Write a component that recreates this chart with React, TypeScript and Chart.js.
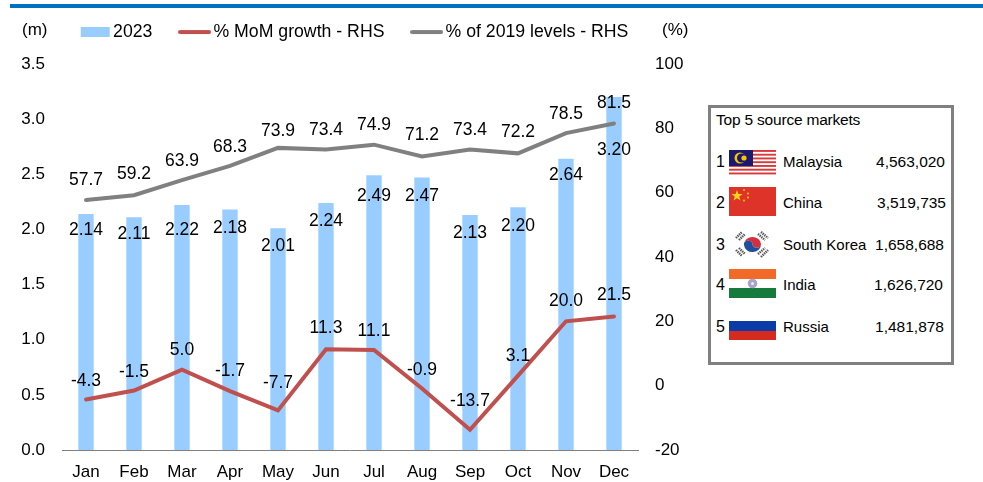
import React, { useEffect, useRef } from "react";
import { Chart, registerables } from "chart.js";

Chart.register(...registerables);

const months = ["Jan", "Feb", "Mar", "Apr", "May", "Jun", "Jul", "Aug", "Sep", "Oct", "Nov", "Dec"];
const arrivals2023 = [2.14, 2.11, 2.22, 2.18, 2.01, 2.24, 2.49, 2.47, 2.13, 2.2, 2.64, 3.2];
const momGrowth = [-4.3, -1.5, 5.0, -1.7, -7.7, 11.3, 11.1, -0.9, -13.7, 3.1, 20.0, 21.5];
const pctOf2019 = [57.7, 59.2, 63.9, 68.3, 73.9, 73.4, 74.9, 71.2, 73.4, 72.2, 78.5, 81.5];

const markets = ["Malaysia", "China", "South Korea", "India", "Russia"];
const marketVisitors = ["4,563,020", "3,519,735", "1,658,688", "1,626,720", "1,481,878"];

// label placement relative to each mark (px, screen y)
const barLabelDy = [16, 17, 25, 19, 18, 18, 21, 19, 18, 19, 16, 53];
const momLabelDy = [-18, -18, -19, -20, -27, -21, -19, -18, -29, -20, -20, -21];
const pctLabelDy = [-20, -21, -19, -19, -17, -19, -19, -21, -19, -21, -19, -20];

const FONT = '"Liberation Sans", Arial, sans-serif';
const TEXT = "#000000";

const valueLabels = {
  id: "valueLabels",
  afterDatasetsDraw(chart: any) {
    const { ctx } = chart;
    const sets: [number, number[], (v: number) => string][] = [
      [0, barLabelDy, (v) => v.toFixed(2)],
      [1, momLabelDy, (v) => v.toFixed(1)],
      [2, pctLabelDy, (v) => v.toFixed(1)],
    ];
    ctx.save();
    ctx.font = `17.5px ${FONT}`;
    ctx.fillStyle = TEXT;
    ctx.textAlign = "center";
    ctx.textBaseline = "middle";
    for (const [idx, dy, fmt] of sets) {
      const meta = chart.getDatasetMeta(idx);
      const data = chart.data.datasets[idx].data as number[];
      meta.data.forEach((el: any, i: number) => {
        ctx.fillText(fmt(data[i]), el.x, el.y + dy[i]);
      });
    }
    ctx.restore();
  },
};

const unitLabels = {
  id: "unitLabels",
  afterDraw(chart: any) {
    const { ctx } = chart;
    ctx.save();
    ctx.font = `17px ${FONT}`;
    ctx.fillStyle = TEXT;
    ctx.textBaseline = "middle";
    ctx.textAlign = "left";
    ctx.fillText("(m)", 22, 30);
    ctx.fillText("(%)", 662, 30);
    ctx.restore();
  },
};

const moveLegend = {
  id: "moveLegend",
  afterLayout(chart: any) {
    chart.legend.left = 52;
    chart.legend.top = -9;
  },
};

// legend swatch drawn to a small canvas so it can be wider than the legend's box
function swatch(kind: "bar" | "line", color: string) {
  const c = document.createElement("canvas");
  c.width = 33;
  c.height = 10;
  const g = c.getContext("2d") as CanvasRenderingContext2D;
  if (kind === "bar") {
    g.fillStyle = color;
    g.fillRect(3, 0, 29, 10);
  } else {
    g.strokeStyle = color;
    g.lineWidth = 4;
    g.lineCap = "round";
    g.beginPath();
    g.moveTo(2, 5);
    g.lineTo(31, 5);
    g.stroke();
  }
  return c;
}

function Flag({ kind }: { kind: string }) {
  const common = { width: 47, height: 29, viewBox: "0 0 47 29", style: { display: "block" } };
  if (kind === "Malaysia") {
    const stripes = [];
    for (let i = 0; i < 7; i++) {
      stripes.push(<rect key={i} x={0} y={i * 3.75} width={47} height={1.9} fill="#D8393A" />);
    }
    return (
      <svg {...common} height={25} viewBox="0 0 47 25">
        {stripes}
        <rect x={0} y={0} width={24} height={16} fill="#1B1A6E" />
        <circle cx={11} cy={8} r={5.5} fill="#F7C600" />
        <circle cx={12.6} cy={8} r={4.6} fill="#1B1A6E" />
        <circle cx={15} cy={8} r={2.6} fill="#F7C600" />
      </svg>
    );
  }
  if (kind === "China") {
    return (
      <svg {...common}>
        <rect width={47} height={29} fill="#DE3328" />
        <polygon points="8,3 9.4,7 13.6,7 10.2,9.6 11.5,13.6 8,11.2 4.5,13.6 5.8,9.6 2.4,7 6.6,7" fill="#F9D616" />
        <circle cx={15} cy={3} r={0.9} fill="#F9D616" />
        <circle cx={19} cy={6.5} r={0.9} fill="#F9D616" />
        <circle cx={19} cy={10.5} r={0.9} fill="#F9D616" />
        <circle cx={15} cy={13.5} r={0.9} fill="#F9D616" />
      </svg>
    );
  }
  if (kind === "South Korea") {
    return (
      <svg {...common}>
        <path d="M15 15 a8.5 7.5 0 0 1 17 -1 a4.25 3.7 0 0 1 -8.5 0 a4.25 3.7 0 0 0 -8.5 1 z" fill="#D62E3C" />
        <path d="M15 15 a4.25 3.7 0 0 1 8.5 -1 a4.25 3.7 0 0 0 8.5 0 a8.5 7.5 0 0 1 -17 1 z" fill="#1F4E9E" />
        <g stroke="#555" strokeWidth={2.4} strokeDasharray="1.4 0.8">
          <line x1={7} y1={8} x2={13} y2={2} />
          <line x1={10} y1={10} x2={16} y2={4} />
          <line x1={32} y1={2} x2={39} y2={8} />
          <line x1={29} y1={4} x2={36} y2={10} />
          <line x1={7} y1={20} x2={13} y2={26} />
          <line x1={10} y1={18} x2={16} y2={24} />
          <line x1={32} y1={27} x2={39} y2={20} />
          <line x1={29} y1={24} x2={36} y2={18} />
        </g>
      </svg>
    );
  }
  if (kind === "India") {
    return (
      <svg {...common}>
        <rect width={47} height={10} fill="#F26A28" />
        <rect y={10} width={47} height={9} fill="#FFFFFF" />
        <rect y={19} width={47} height={10} fill="#157A3C" />
        <circle cx={23.5} cy={14.5} r={4.8} fill="#A7A5C9" />
        <circle cx={23.5} cy={14.5} r={1.5} fill="#EDEDF5" />
      </svg>
    );
  }
  return (
    <svg {...common} height={19} viewBox="0 0 47 19">
      <rect width={47} height={10} fill="#0A3CA8" />
      <rect y={10} width={47} height={9} fill="#D52B1E" />
    </svg>
  );
}

const rowY = [162, 203, 245, 285, 327];
const flagY = [150, 187, 230, 269, 321];
const numRight = [945, 946, 944, 943, 944];

export default function App() {
  const ref = useRef<HTMLCanvasElement>(null);

  useEffect(() => {
    document.body.style.margin = "0";
    const chart = new Chart(ref.current as HTMLCanvasElement, {
      data: {
        labels: months,
        datasets: [
          {
            type: "bar",
            label: "2023",
            data: arrivals2023,
            yAxisID: "y",
            backgroundColor: "#99CCFF",
            barPercentage: 0.32,
            categoryPercentage: 1,
            order: 2,
          },
          {
            type: "line",
            label: "% MoM growth - RHS",
            data: momGrowth,
            yAxisID: "y1",
            borderColor: "#C0504D",
            backgroundColor: "#C0504D",
            borderWidth: 4,
            borderCapStyle: "round",
            pointRadius: 0,
            tension: 0,
            order: 1,
          },
          {
            type: "line",
            label: "% of 2019 levels - RHS",
            data: pctOf2019,
            yAxisID: "y1",
            borderColor: "#808080",
            backgroundColor: "#808080",
            borderWidth: 4,
            borderCapStyle: "round",
            pointRadius: 0,
            tension: 0,
            order: 1,
          },
        ],
      },
      options: {
        animation: false,
        responsive: false,
        layout: { padding: { top: 4, right: 0, left: 0, bottom: 0 } },
        plugins: {
          tooltip: { enabled: false },
          legend: {
            position: "top",
            align: "start",
            labels: {
              color: TEXT,
              font: { family: FONT, size: 17.7 },
              usePointStyle: true,
              pointStyleWidth: 20,
              padding: 32.2,
              generateLabels(c: any) {
                return c.data.datasets.map((d: any, i: number) => ({
                  text: d.label,
                  fontColor: TEXT,
                  fillStyle: d.backgroundColor,
                  strokeStyle: d.backgroundColor,
                  lineWidth: 0,
                  pointStyle: swatch(d.type, d.backgroundColor),
                  datasetIndex: i,
                  hidden: false,
                }));
              },
            },
          },
        },
        scales: {
          x: {
            grid: { display: false, drawTicks: false },
            border: { display: true, color: "#808080", width: 1 },
            ticks: { color: TEXT, font: { family: FONT, size: 17 }, padding: 12, maxRotation: 0, autoSkip: false },
            afterFit(s: any) { s.height = 32; },
          },
          y: {
            position: "left",
            min: 0,
            max: 3.5,
            grid: { display: false, drawTicks: false },
            border: { display: false },
            ticks: {
              stepSize: 0.5,
              color: TEXT,
              font: { family: FONT, size: 17 },
              padding: 17,
              callback: (v: any) => Number(v).toFixed(1),
            },
            afterFit(s: any) { s.width = 62; },
          },
          y1: {
            position: "right",
            min: -20,
            max: 100,
            grid: { display: false, drawTicks: false },
            border: { display: false },
            ticks: {
              stepSize: 20,
              color: TEXT,
              font: { family: FONT, size: 17 },
              padding: 17,
            },
            afterFit(s: any) { s.width = 345; },
          },
        },
      },
      plugins: [moveLegend, valueLabels, unitLabels],
    } as any);
    return () => chart.destroy();
  }, []);

  return (
    <div style={{ position: "relative", width: 983, height: 482, overflow: "hidden", fontFamily: FONT, color: "#000" }}>
      <canvas ref={ref} width={983} height={482} style={{ position: "absolute", left: 0, top: 0 }} />
      <div style={{ position: "absolute", left: 10, top: 4, width: 973, height: 4, background: "#0070C0" }} />
      <div
        style={{
          position: "absolute",
          left: 708,
          top: 105,
          width: 246,
          height: 260,
          boxSizing: "border-box",
          border: "3px solid #808080",
          background: "#fff",
        }}
      />
      <div style={{ position: "absolute", left: 716, top: 111, fontSize: 15.5, lineHeight: "18px", whiteSpace: "nowrap", letterSpacing: -0.2 }}>
        Top 5 source markets
      </div>
      {markets.map((m, i) => (
        <React.Fragment key={m}>
          <div style={{ position: "absolute", left: 716, top: rowY[i] - 9, fontSize: 16, lineHeight: "18px" }}>{i + 1}</div>
          <div style={{ position: "absolute", left: 729, top: flagY[i] }}><Flag kind={m} /></div>
          <div style={{ position: "absolute", left: 783, top: rowY[i] - 9, fontSize: 15, lineHeight: "18px", whiteSpace: "nowrap" }}>{m}</div>
          <div style={{ position: "absolute", right: 983 - numRight[i], top: rowY[i] - 9, fontSize: 15.5, lineHeight: "18px", whiteSpace: "nowrap" }}>{marketVisitors[i]}</div>
        </React.Fragment>
      ))}
    </div>
  );
}
